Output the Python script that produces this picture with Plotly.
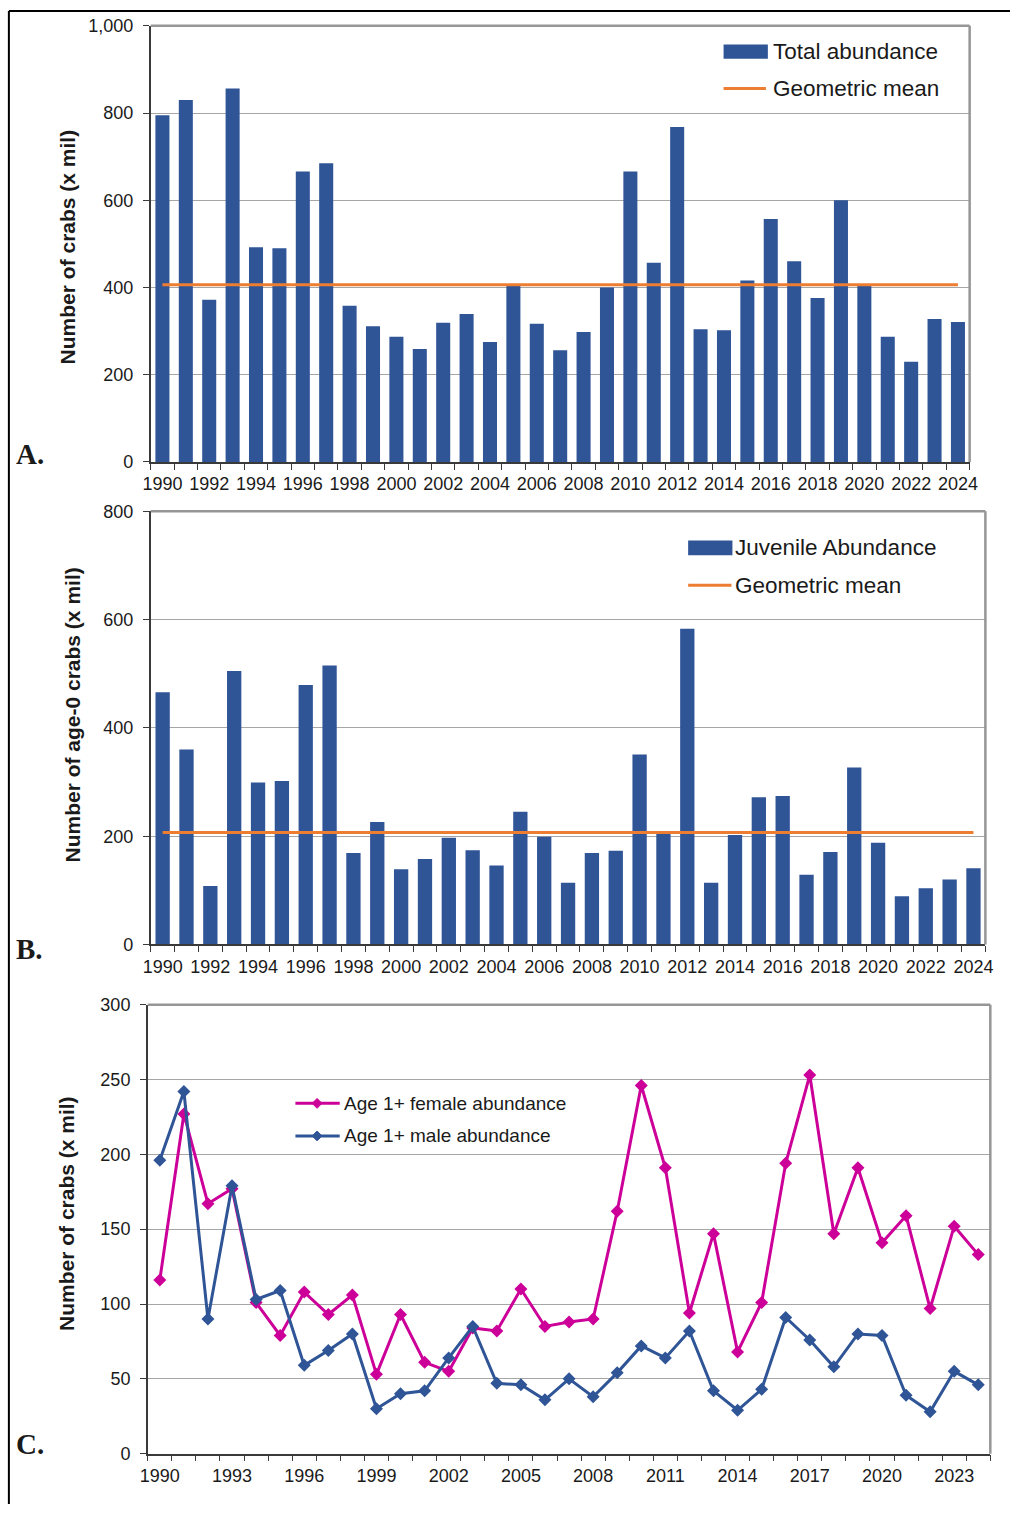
import plotly.graph_objects as go

# ---------------------------------------------------------------------------
# Data (millions of crabs)
# ---------------------------------------------------------------------------
years = list(range(1990, 2025))

total_abundance = [795, 830, 372, 856, 492, 490, 666, 685, 358, 311,
                   287, 259, 319, 339, 275, 405, 317, 256, 298, 400,
                   666, 457, 768, 304, 302, 416, 557, 460, 376, 600,
                   406, 287, 230, 328, 321]
geo_mean_total = 406

juvenile_abundance = [466, 360, 108, 505, 299, 302, 479, 515, 169, 226,
                      139, 158, 197, 174, 146, 245, 199, 114, 169, 173,
                      351, 206, 583, 114, 202, 272, 274, 129, 171, 327,
                      188, 89, 104, 120, 141]
geo_mean_juvenile = 207

female_age1 = [116, 227, 167, 177, 101, 79, 108, 93, 106, 53,
               93, 61, 55, 84, 82, 110, 85, 88, 90, 162,
               246, 191, 94, 147, 68, 101, 194, 253, 147, 191,
               141, 159, 97, 152, 133]
male_age1 = [196, 242, 90, 179, 103, 109, 59, 69, 80, 30,
             40, 42, 64, 85, 47, 46, 36, 50, 38, 54,
             72, 64, 82, 42, 29, 43, 91, 76, 58, 80,
             79, 39, 28, 55, 46]

label_step_bars = 2
label_step_lines = 3

# ---------------------------------------------------------------------------
# Styling / page geometry
# ---------------------------------------------------------------------------
PAGE_W, PAGE_H = 1034, 1530
BODY_MARGIN = 8                      # default margin of the html body
W, H = PAGE_W - 2 * BODY_MARGIN, PAGE_H - 2 * BODY_MARGIN

BLUE = "#2F5597"
ORANGE = "#ED7D31"
MAGENTA = "#CC0099"
AXIS = "#3a3a3a"
GRID = "#a6a6a6"
BORDER = "#969696"
TEXT = "#1a1a1a"
SANS = "Liberation Sans, Arial, sans-serif"
SERIF = "Liberation Serif, Times New Roman, serif"


def fx(px):
    """page pixel column -> paper x"""
    return (px - BODY_MARGIN) / W


def fy(py):
    """page pixel row -> paper y"""
    return 1 - (py - BODY_MARGIN) / H


fig = go.Figure()

# Panel A: total abundance
fig.add_trace(go.Bar(x=years, y=total_abundance, width=0.6, marker_color=BLUE,
                     marker_line_width=0, xaxis="x", yaxis="y", name="Total abundance"))
fig.add_trace(go.Scatter(x=[years[0], years[-1]], y=[geo_mean_total] * 2, mode="lines",
                         line=dict(color=ORANGE, width=3), xaxis="x", yaxis="y",
                         name="Geometric mean"))

# Panel B: juvenile abundance
fig.add_trace(go.Bar(x=years, y=juvenile_abundance, width=0.6, marker_color=BLUE,
                     marker_line_width=0, xaxis="x2", yaxis="y2", name="Juvenile Abundance"))
fig.add_trace(go.Scatter(x=[years[0], years[-1]], y=[geo_mean_juvenile] * 2, mode="lines",
                         line=dict(color=ORANGE, width=3), xaxis="x2", yaxis="y2",
                         name="Geometric mean"))

# Panel C: age 1+ by sex
fig.add_trace(go.Scatter(x=years, y=female_age1, mode="lines+markers",
                         line=dict(color=MAGENTA, width=3),
                         marker=dict(symbol="diamond", size=10, color=MAGENTA),
                         xaxis="x3", yaxis="y3", name="Age 1+ female abundance"))
fig.add_trace(go.Scatter(x=years, y=male_age1, mode="lines+markers",
                         line=dict(color=BLUE, width=3),
                         marker=dict(symbol="diamond", size=10, color=BLUE),
                         xaxis="x3", yaxis="y3", name="Age 1+ male abundance"))

tick_font = dict(family=SANS, size=18, color=TEXT)


def x_axis(left, right, top, bottom, anchor, step):
    return dict(
        domain=[fx(left), fx(right)], anchor=anchor,
        range=[years[0] - 0.5, years[-1] + 0.5],
        tickmode="array", tickvals=years[::step], ticks="outside", ticklen=0,
        tickfont=tick_font, ticklabelstandoff=5,
        showgrid=False, zeroline=False,
        showline=True, linecolor=AXIS, linewidth=1.5,
        minor=dict(tickmode="array", tickvals=[y - 0.5 for y in years] + [years[-1] + 0.5],
                   ticks="outside", ticklen=6, tickcolor=AXIS, tickwidth=1, showgrid=False),
    )


def y_axis(top, bottom, anchor, vmax, dtick, fmt=""):
    return dict(
        domain=[fy(bottom), fy(top)], anchor=anchor,
        range=[0, vmax], tickmode="linear", tick0=0, dtick=dtick,
        tickformat=fmt, tickfont=tick_font,
        ticks="outside", ticklen=6, tickcolor=AXIS, tickwidth=1, ticklabelstandoff=6,
        showgrid=True, gridcolor=GRID, gridwidth=1, zeroline=False,
        showline=True, linecolor=AXIS, linewidth=1.5,
    )


# plot-area rectangles (page pixels): left, right, top, bottom
A = (153, 985, 24, 466)
B = (153, 1001, 516, 955)
C = (150, 1006, 1016, 1471)

layout = dict(
    width=W, height=H, margin=dict(l=0, r=0, t=0, b=0),
    paper_bgcolor="white", plot_bgcolor="white", showlegend=False,
    bargap=0.4,
    xaxis=x_axis(*A, anchor="y", step=label_step_bars),
    yaxis=y_axis(A[2], A[3], "x", 1000, 200, ","),
    xaxis2=x_axis(*B, anchor="y2", step=label_step_bars),
    yaxis2=y_axis(B[2], B[3], "x2", 800, 200),
    xaxis3=x_axis(*C, anchor="y3", step=label_step_lines),
    yaxis3=y_axis(C[2], C[3], "x3", 300, 50),
)
fig.update_layout(**layout)

shapes = []
# gray top / right frame of each plot area
for xa, ya in (("x", "y"), ("x2", "y2"), ("x3", "y3")):
    shapes.append(dict(type="line", xref=f"{xa} domain", yref=f"{ya} domain",
                       x0=0, x1=1, y0=1, y1=1, line=dict(color=BORDER, width=2.5)))
    shapes.append(dict(type="line", xref=f"{xa} domain", yref=f"{ya} domain",
                       x0=1, x1=1, y0=0, y1=1, line=dict(color=BORDER, width=2.5)))

# outer figure frame (top and left edges)
shapes.append(dict(type="line", xref="paper", yref="paper",
                   x0=fx(8.9), x1=1.0, y0=fy(8.9), y1=fy(8.9),
                   line=dict(color="black", width=2)))
shapes.append(dict(type="line", xref="paper", yref="paper",
                   x0=fx(8.9), x1=fx(8.9), y0=0.0, y1=fy(8.9),
                   line=dict(color="black", width=2)))

# legend glyphs
shapes.append(dict(type="rect", xref="paper", yref="paper", x0=fx(735), x1=fx(780),
                   y0=fy(57.5), y1=fy(43), fillcolor=BLUE, line=dict(width=0)))
shapes.append(dict(type="line", xref="paper", yref="paper", x0=fx(735), x1=fx(778),
                   y0=fy(87.5), y1=fy(87.5), line=dict(color=ORANGE, width=3)))
shapes.append(dict(type="rect", xref="paper", yref="paper", x0=fx(699), x1=fx(744),
                   y0=fy(560.5), y1=fy(545.5), fillcolor=BLUE, line=dict(width=0)))
shapes.append(dict(type="line", xref="paper", yref="paper", x0=fx(699), x1=fx(743),
                   y0=fy(591), y1=fy(591), line=dict(color=ORANGE, width=3)))
for yy, col in ((1116, MAGENTA), (1149, BLUE)):
    shapes.append(dict(type="line", xref="paper", yref="paper", x0=fx(300), x1=fx(345),
                       y0=fy(yy), y1=fy(yy), line=dict(color=col, width=3)))
    cx, r = 322, 5
    path = (f"M {fx(cx)},{fy(yy - r)} L {fx(cx + r)},{fy(yy)} "
            f"L {fx(cx)},{fy(yy + r)} L {fx(cx - r)},{fy(yy)} Z")
    shapes.append(dict(type="path", xref="paper", yref="paper", path=path,
                       fillcolor=col, line=dict(color=col, width=1)))

fig.update_layout(shapes=shapes)

annotations = []


def text(x, y, s, size, family=SANS, bold=False, angle=0, xanchor="left"):
    annotations.append(dict(
        x=fx(x), y=fy(y), xref="paper", yref="paper", text=f"<b>{s}</b>" if bold else s,
        showarrow=False, xanchor=xanchor, yanchor="middle", textangle=angle,
        font=dict(family=family, size=size, color=TEXT)))


# legend labels
text(783, 50, "Total abundance", 22.5)
text(783, 88, "Geometric mean", 22.5)
text(745, 553, "Juvenile Abundance", 22.5)
text(745, 591, "Geometric mean", 22.5)
text(347, 1116, "Age 1+ female abundance", 19)
text(347, 1149, "Age 1+ male abundance", 19)

# axis titles
text(68.5, 248, "Number of crabs (x mil)", 21, bold=True, angle=-90, xanchor="center")
text(74, 722, "Number of age-0 crabs (x mil)", 21, bold=True, angle=-90, xanchor="center")
text(68, 1228, "Number of crabs (x mil)", 21, bold=True, angle=-90, xanchor="center")

# panel letters
text(14, 458, "A.", 29, family=SERIF, bold=True)
text(14, 960, "B.", 29, family=SERIF, bold=True)
text(14, 1461, "C.", 29, family=SERIF, bold=True)

fig.update_layout(annotations=annotations)

fig.write_html("out.html")
